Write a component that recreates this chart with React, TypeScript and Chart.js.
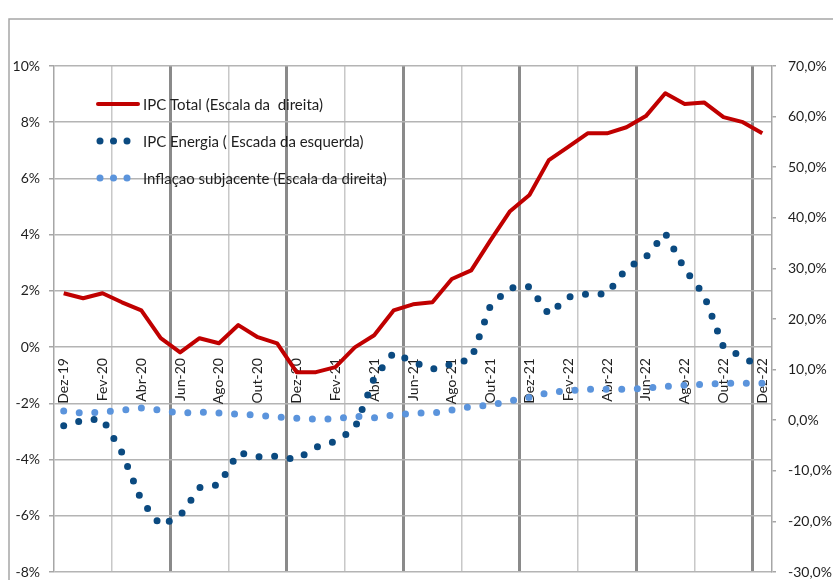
import React, { useEffect, useRef } from 'react';
import { Chart, registerables } from 'chart.js';

Chart.register(...registerables);

// Categories (monthly, Dez-19 .. Dez-22)
const months = [
  'Dez-19', 'Jan-20', 'Fev-20', 'Mar-20', 'Abr-20', 'Mai-20', 'Jun-20', 'Jul-20', 'Ago-20', 'Set-20', 'Out-20', 'Nov-20',
  'Dez-20', 'Jan-21', 'Fev-21', 'Mar-21', 'Abr-21', 'Mai-21', 'Jun-21', 'Jul-21', 'Ago-21', 'Set-21', 'Out-21', 'Nov-21',
  'Dez-21', 'Jan-22', 'Fev-22', 'Mar-22', 'Abr-22', 'Mai-22', 'Jun-22', 'Jul-22', 'Ago-22', 'Set-22', 'Out-22', 'Nov-22',
  'Dez-22',
];

// IPC Total (right axis, %)
const ipcTotal = [
  25.1, 24.1, 25.1, 23.3, 21.7, 16.2, 13.4, 16.2, 15.2, 18.8, 16.4, 15.2,
  9.5, 9.5, 10.5, 14.4, 16.8, 21.7, 22.9, 23.3, 27.9, 29.6, 35.6, 41.3,
  44.5, 51.4, 54.0, 56.7, 56.7, 57.9, 60.1, 64.6, 62.5, 62.8, 59.9, 58.9,
  56.7,
];

// IPC Energia (left axis, %)
const ipcEnergia = [
  -2.8, -2.6, -2.55, -3.75, -5.45, -6.35, -6.0, -5.0, -4.9, -3.75, -3.9, -3.88,
  -4.0, -3.56, -3.35, -2.9, -1.1, -0.2, -0.53, -0.78, -0.6, -0.43, 1.5, 2.1,
  2.15, 1.17, 1.78, 1.89, 1.89, 2.8, 3.2, 4.05, 2.78, 1.85, 0.0, -0.36,
  -0.75,
];

// Inflação subjacente (right axis, %)
const inflacaoSubjacente = [
  1.8, 1.4, 1.6, 2.0, 2.4, 2.0, 1.4, 1.6, 1.4, 1.2, 1.0, 0.6,
  0.4, 0.2, 0.3, 0.8, 0.5, 1.0, 1.4, 1.4, 2.0, 2.7, 3.0, 3.8,
  4.5, 5.5, 5.8, 6.1, 6.1, 6.1, 6.3, 6.7, 6.9, 7.1, 7.3, 7.3,
  7.3,
];

const seriesNames = [
  'IPC Total (Escala da  direita)',
  'IPC Energia ( Escada da esquerda)',
  'Inflaçao subjacente (Escala da direita)',
];

// Axis ranges
const leftMin = -8;
const leftMax = 10;
const leftStep = 2;
const rightMin = -30;
const rightMax = 70;
const rightStep = 10;

const RED = '#c00000';
const DARK = '#0b4a80';
const LIGHT = '#5b94dc';
const FONT = 'Lato, "Open Sans", sans-serif';
const TEXT = '#1e1e1e';

export default function App() {
  const ref = useRef<HTMLCanvasElement | null>(null);

  useEffect(() => {
    const canvas = ref.current;
    if (!canvas) return;

    const framePlugin = {
      id: 'frame',
      beforeDraw(chart: any) {
        const c = chart.ctx;
        c.save();
        c.strokeStyle = '#a6a6a6';
        c.lineWidth = 1.5;
        c.strokeRect(9, 19, 1000, 1000);
        c.restore();
      },
    };

    const legendPlugin = {
      id: 'insideLegend',
      afterDraw(chart: any) {
        const c = chart.ctx;
        const a = chart.chartArea;
        const x0 = a.left + 44;
        const rows = [a.top + 38, a.top + 75, a.top + 112];
        c.save();
        c.strokeStyle = RED;
        c.lineWidth = 4;
        c.lineCap = 'round';
        c.beginPath();
        c.moveTo(x0, rows[0]);
        c.lineTo(x0 + 40, rows[0]);
        c.stroke();
        const dots = (y: number, col: string) => {
          c.fillStyle = col;
          for (let k = 0; k < 3; k++) {
            c.beginPath();
            c.arc(x0 + 2 + k * 13.5, y, 3.5, 0, Math.PI * 2);
            c.fill();
          }
        };
        dots(rows[1], DARK);
        dots(rows[2], LIGHT);
        c.fillStyle = TEXT;
        c.font = '15px ' + FONT;
        c.textBaseline = 'middle';
        c.textAlign = 'left';
        seriesNames.forEach((n, i) => c.fillText(n, x0 + 45, rows[i] + 1));
        c.restore();
      },
    };

    const chart = new Chart(canvas, {
      type: 'line',
      data: {
        labels: months,
        datasets: [
          {
            label: seriesNames[0],
            data: ipcTotal,
            yAxisID: 'y1',
            borderColor: RED,
            borderWidth: 4,
            borderJoinStyle: 'round',
            pointRadius: 0,
            tension: 0,
          },
          {
            label: seriesNames[1],
            data: ipcEnergia,
            yAxisID: 'y',
            borderColor: DARK,
            borderWidth: 7,
            borderDash: [0, 15.6],
            borderCapStyle: 'round',
            borderJoinStyle: 'round',
            pointRadius: 0,
            tension: 0,
          },
          {
            label: seriesNames[2],
            data: inflacaoSubjacente,
            yAxisID: 'y1',
            borderColor: LIGHT,
            borderWidth: 7,
            borderDash: [0, 15.6],
            borderCapStyle: 'round',
            borderJoinStyle: 'round',
            pointRadius: 0,
            tension: 0,
          },
        ],
      },
      options: {
        responsive: false,
        animation: false,
        devicePixelRatio: 1,
        layout: { padding: { left: 0, right: 0, top: 66, bottom: 8 } },
        plugins: { legend: { display: false }, tooltip: { enabled: false } },
        scales: {
          x: {
            type: 'category',
            position: { y: 0 } as any,
            offset: true,
            border: { display: false },
            afterFit: (s: any) => { s.height = 0; s.paddingTop = 0; s.paddingBottom = 0; s.paddingLeft = 0; s.paddingRight = 0; },
            grid: {
              offset: true,
              drawTicks: false,
              color: (ctx: any) => {
                const i = ctx.index;
                if (i === undefined || i === 0) return 'rgba(0,0,0,0)';
                if (i % 6 === 0) return '#8a8a8a';
                if (i % 3 === 0) return '#c8c8c8';
                return 'rgba(0,0,0,0)';
              },
              lineWidth: (ctx: any) => (ctx.index !== undefined && ctx.index % 6 === 0 ? 3 : 1.5),
            },
            ticks: {
              autoSkip: false,
              minRotation: 90,
              maxRotation: 90,
              padding: 11,
              color: TEXT,
              font: { family: FONT, size: 14 },
              callback: (_v: any, i: number) => (i % 2 === 0 ? months[i] : ''),
            },
          },
          y: {
            position: 'left',
            min: leftMin,
            max: leftMax,
            afterFit: (s: any) => { s.width = 54; s.paddingTop = 0; s.paddingBottom = 0; },
            border: { display: true, color: '#a6a6a6', width: 1.5 },
            grid: { color: '#b4b4b4', lineWidth: 1.5, drawTicks: true, tickLength: 5, tickColor: '#a6a6a6' },
            ticks: {
              stepSize: leftStep,
              padding: 9,
              color: TEXT,
              font: { family: FONT, size: 14 },
              callback: (v: any) => `${v}%`,
            },
          },
          y1: {
            position: 'right',
            min: rightMin,
            max: rightMax,
            afterFit: (s: any) => { s.width = 61; s.paddingTop = 0; s.paddingBottom = 0; },
            border: { display: true, color: '#a6a6a6', width: 1.5 },
            grid: { drawOnChartArea: false, drawTicks: true, tickLength: 4, tickColor: '#a6a6a6', lineWidth: 1.5 },
            ticks: {
              stepSize: rightStep,
              padding: 12,
              color: TEXT,
              font: { family: FONT, size: 14 },
              callback: (v: any) => `${Number(v).toFixed(1).replace('.', ',')}%`,
            },
          },
        },
      } as any,
      plugins: [framePlugin, legendPlugin],
    });

    return () => chart.destroy();
  }, []);

  return (
    <div style={{ position: 'absolute', left: 0, top: 0, width: 833, height: 580, background: '#fff' }}>
      <canvas ref={ref} width={833} height={580} style={{ display: 'block' }} />
    </div>
  );
}
